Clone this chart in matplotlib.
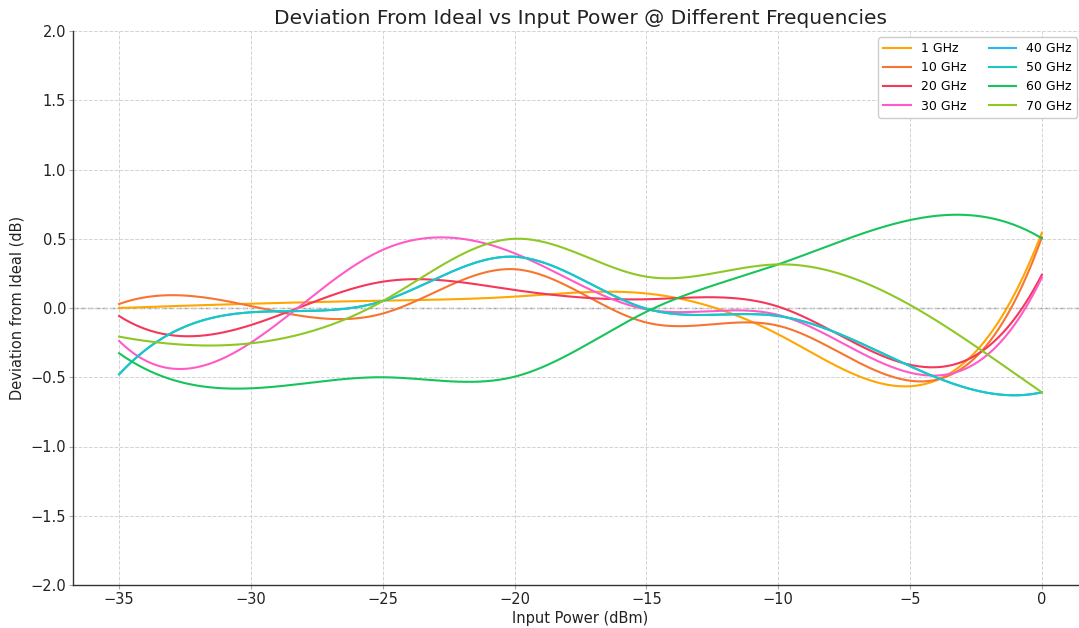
import numpy as np
import matplotlib
matplotlib.use("Agg")
import matplotlib.pyplot as plt

power = [-35, -30, -25, -20, -15, -10, -5, 0]
labels = ["1 GHz", "10 GHz", "20 GHz", "30 GHz", "40 GHz", "50 GHz", "60 GHz", "70 GHz"]
dev_1 = [0.0, 0.031, 0.053, 0.082, 0.105, -0.19, -0.565, 0.544]
dev_10 = [0.029, 0.014, -0.04, 0.28, -0.105, -0.128, -0.525, 0.51]
dev_20 = [-0.058, -0.123, 0.19, 0.13, 0.063, 0.01, -0.41, 0.24]
dev_30 = [-0.238, -0.25, 0.42, 0.395, -0.01, -0.05, -0.467, 0.22]
dev_40 = [-0.479, -0.031, 0.05, 0.37, -0.005, -0.058, -0.42, -0.609]
dev_50 = [-0.479, -0.031, 0.05, 0.37, -0.005, -0.058, -0.42, -0.609]
dev_60 = [-0.327, -0.58, -0.50, -0.496, -0.027, 0.315, 0.635, 0.503]
dev_70 = [-0.207, -0.255, 0.05, 0.50, 0.226, 0.315, 0.022, -0.609]
series = [dev_1, dev_10, dev_20, dev_30, dev_40, dev_50, dev_60, dev_70]
colors = ["#FFA600", "#F77530", "#F5375A", "#FF5BC8", "#2BB5F5", "#19C8C4", "#17C45B", "#8DC824"]


def spline_curve(x, y, num=300):
    # not-a-knot cubic spline used only to draw a smooth line through the read values
    x = np.asarray(x, float)
    y = np.asarray(y, float)
    n = len(x) - 1
    h = np.diff(x)
    A = np.zeros((n + 1, n + 1))
    b = np.zeros(n + 1)
    for i in range(1, n):
        A[i, i - 1] = h[i - 1]
        A[i, i] = 2 * (h[i - 1] + h[i])
        A[i, i + 1] = h[i]
        b[i] = 6 * ((y[i + 1] - y[i]) / h[i] - (y[i] - y[i - 1]) / h[i - 1])
    A[0, 0] = h[1]; A[0, 1] = -(h[0] + h[1]); A[0, 2] = h[0]
    A[n, n - 2] = h[n - 1]; A[n, n - 1] = -(h[n - 2] + h[n - 1]); A[n, n] = h[n - 2]
    M = np.linalg.solve(A, b)
    xs = np.linspace(x[0], x[-1], num)
    idx = np.clip(np.searchsorted(x, xs) - 1, 0, n - 1)
    x0 = x[idx]; x1 = x[idx + 1]; hh = h[idx]
    ys = (M[idx] * (x1 - xs) ** 3 / (6 * hh) + M[idx + 1] * (xs - x0) ** 3 / (6 * hh)
          + (y[idx] / hh - M[idx] * hh / 6) * (x1 - xs)
          + (y[idx + 1] / hh - M[idx + 1] * hh / 6) * (xs - x0))
    return xs, ys


fig = plt.figure(figsize=(10.79, 6.28), dpi=100)
ax = fig.add_axes([73 / 1079, 1 - 585 / 628, (1088 - 73) / 1079, (585 - 31) / 628])

for lab, vals, c in zip(labels, series, colors):
    xs, ys = spline_curve(power, vals)
    ax.plot(xs, ys, color=c, lw=1.5, label=lab)

ax.axhline(0, color="#999999", lw=1.0, ls="--", zorder=0)
ax.grid(True, ls="--", color="#d3d3d3", lw=0.7)
ax.set_axisbelow(True)
ax.set_xlim(-36.75, 1.75)
ax.set_ylim(-2.0, 2.0)
ax.set_yticks(np.arange(-2.0, 2.01, 0.5))
ax.set_xticks([-35, -30, -25, -20, -15, -10, -5, 0])
for s in ["top", "right"]:
    ax.spines[s].set_visible(False)
for s in ["left", "bottom"]:
    ax.spines[s].set_color("#333333")
    ax.spines[s].set_linewidth(1.0)
ax.tick_params(labelsize=10.5, length=3, width=0.8, color="#aaaaaa", pad=2, labelcolor="#222222")
ax.set_xlabel("Input Power (dBm)", fontsize=10.5, labelpad=3, color="#222222")
ax.set_ylabel("Deviation from Ideal (dB)", fontsize=10.5, labelpad=4, color="#222222")
ax.set_title("Deviation From Ideal vs Input Power @ Different Frequencies", fontsize=14.5,
             color="#222222", pad=5)
ax.legend(ncol=2, fontsize=9, loc="upper right",
          bbox_to_anchor=(1077 / 1079, 1 - 37 / 628), bbox_transform=fig.transFigure,
          borderaxespad=0, framealpha=1, edgecolor="#cccccc", handlelength=2.2,
          columnspacing=1.8)

fig.savefig("out.png", dpi=100)
